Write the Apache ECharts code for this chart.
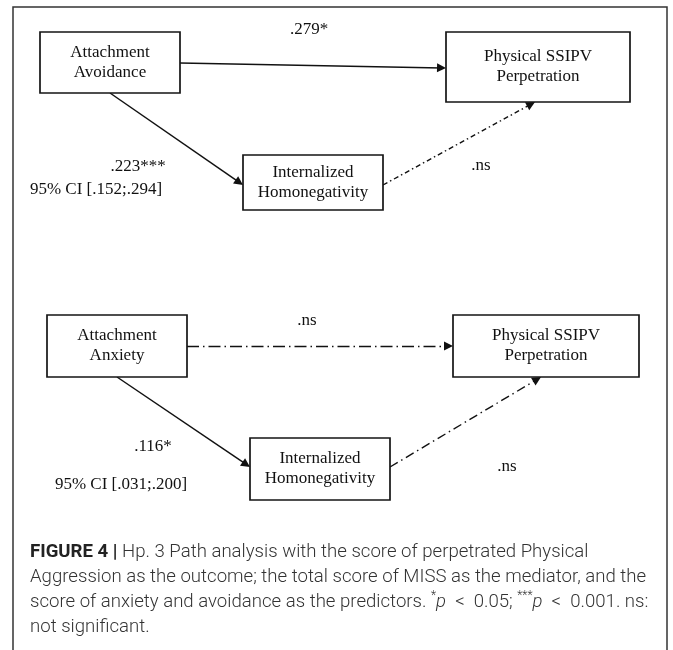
<!DOCTYPE html>
<html>
<head>
<meta charset="utf-8">
<script src="https://cdn.jsdelivr.net/npm/echarts@6/dist/echarts.min.js"></script>
<style>
html, body { margin: 0; padding: 0; background: #fff; }
#chart { width: 673px; height: 650px; }
</style>
</head>
<body>
<div id="chart"></div>
<script>
// diagram content
var nodeNames = ['Attachment\nAvoidance', 'Physical SSIPV\nPerpetration', 'Internalized\nHomonegativity',
                 'Attachment\nAnxiety', 'Physical SSIPV\nPerpetration', 'Internalized\nHomonegativity'];
var pathLabels = ['.279*', '.223***', '.ns', '.ns', '.116*', '.ns'];
var pathSig = [true, true, false, false, true, false];
var ciLabels = ['95% CI [.152;.294]', '95% CI [.031;.200]'];
var captionLines = [
  '{b|FIGURE 4 |} Hp. 3 Path analysis with the score of perpetrated Physical',
  'Aggression as the outcome; the total score of MISS as the mediator, and the',
  'score of anxiety and avoidance as the predictors. {sup|*}{i|p}  <  0.05; {sup|***}{i|p}  <  0.001. ns:',
  'not significant.'
];

// layout (pixels, y down)
var boxes = [[40, 32, 180, 93], [446, 32, 630, 102], [243, 155, 383, 210],
             [47, 315, 187, 377], [453, 315, 639, 377], [250, 438, 390, 500]];
var edgePos = [[[180, 63], [446, 68]], [[110, 93], [243, 185]], [[383, 185], [535, 102]],
               [[187, 346], [453, 346]], [[117, 377], [250, 467]], [[390, 467], [541, 377]]];
var edgeDash = ['solid', 'solid', [5, 3, 1.5, 3], [12, 4, 1.5, 4], 'solid', [9, 4, 1.5, 4]];
var labelPos = [[309, 30], [138, 167], [481, 166], [307, 321], [153, 447], [507, 467]];
var ciPos = [[96, 190], [121, 485]];
var captionY = [552, 577, 602, 627];

var serif = '"Liberation Serif", "Times New Roman", serif';
var ARROW = 9;

function shorten(p, q, d) {
  var dx = q[0] - p[0], dy = q[1] - p[1];
  var len = Math.sqrt(dx * dx + dy * dy);
  return [q[0] - dx / len * d, q[1] - dy / len * d];
}

var lineData = edgePos.map(function (e, i) {
  return {
    coords: [e[0], shorten(e[0], e[1], ARROW / 2)],
    lineStyle: { type: edgeDash[i], width: pathSig[i] ? 1.5 : 1.4, color: '#111', opacity: 1 }
  };
});

var textItems = pathLabels.map(function (t, i) { return [labelPos[i][0], labelPos[i][1], t]; })
  .concat(ciLabels.map(function (t, i) { return [ciPos[i][0], ciPos[i][1], t]; }));

var myChart = echarts.init(document.getElementById('chart'));

var capFont = { fontFamily: 'Roboto', fontWeight: 300, fontSize: 18.6, fill: '#333' };

var option = {
  backgroundColor: '#fff',
  animation: false,
  grid: { left: 0, right: 0, top: 0, bottom: 0 },
  xAxis: { type: 'value', min: 0, max: 673, show: false },
  yAxis: { type: 'value', min: 0, max: 650, inverse: true, show: false },
  series: [
    {
      type: 'lines',
      coordinateSystem: 'cartesian2d',
      symbol: ['none', 'triangle'],
      symbolSize: ARROW,
      silent: true,
      lineStyle: { opacity: 1, color: '#111' },
      data: lineData,
      z: 2
    },
    {
      type: 'custom',
      coordinateSystem: 'cartesian2d',
      data: nodeNames.map(function (n, i) { return [i]; }),
      renderItem: function (params, api) {
        var b = boxes[api.value(0)];
        var p1 = api.coord([b[0], b[1]]);
        var p2 = api.coord([b[2], b[3]]);
        return {
          type: 'group',
          children: [
            {
              type: 'rect',
              shape: { x: p1[0], y: p1[1], width: p2[0] - p1[0], height: p2[1] - p1[1] },
              style: { fill: '#fff', stroke: '#151515', lineWidth: 1.7 }
            },
            {
              type: 'text',
              style: {
                text: nodeNames[api.value(0)],
                x: (p1[0] + p2[0]) / 2,
                y: (p1[1] + p2[1]) / 2,
                align: 'center',
                verticalAlign: 'middle',
                font: '17px ' + serif,
                lineHeight: 20,
                fill: '#111'
              }
            }
          ]
        };
      },
      z: 3
    },
    {
      type: 'custom',
      coordinateSystem: 'cartesian2d',
      data: textItems,
      renderItem: function (params, api) {
        var p = api.coord([api.value(0), api.value(1)]);
        return {
          type: 'text',
          style: {
            text: textItems[params.dataIndex][2],
            x: p[0], y: p[1],
            align: 'center', verticalAlign: 'middle',
            font: '17px ' + serif,
            fill: '#111'
          }
        };
      },
      z: 4
    }
  ],
  graphic: [
    {
      type: 'polyline',
      shape: { points: [[13, 650], [13, 7], [667, 7], [667, 650]] },
      style: { stroke: '#333', lineWidth: 1.5, fill: null }
    }
  ].concat(captionLines.map(function (t, i) {
    return {
      type: 'text',
      left: 30,
      top: captionY[i] - 12,
      style: {
        text: t,
        fontFamily: capFont.fontFamily,
        fontWeight: capFont.fontWeight,
        fontSize: capFont.fontSize,
        lineHeight: 24,
        fill: capFont.fill,
        rich: {
          b: { fontFamily: 'Roboto', fontWeight: 'bold', fontSize: capFont.fontSize, fill: '#222' },
          i: { fontFamily: 'Roboto', fontWeight: 300, fontStyle: 'italic', fontSize: capFont.fontSize, fill: '#333' },
          sup: { fontFamily: 'Roboto', fontWeight: 300, fontSize: 12, fill: '#333', verticalAlign: 'top', lineHeight: 24 }
        }
      }
    };
  }))
};
myChart.setOption(option);
</script>
</body>
</html>
